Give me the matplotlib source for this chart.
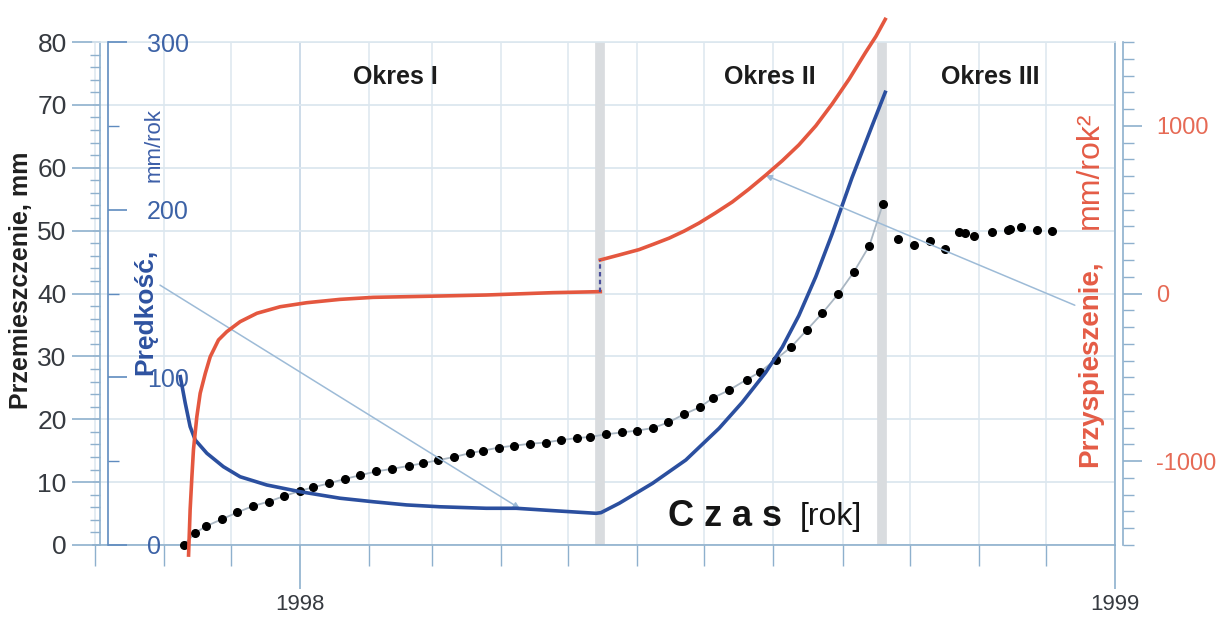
import numpy as np
import matplotlib
matplotlib.use("Agg")
import matplotlib.pyplot as plt
import matplotlib.dates as mdates
from matplotlib.ticker import MultipleLocator

plt.rcParams['font.family'] = ['Liberation Sans', 'DejaVu Sans']
plt.rcParams['axes.unicode_minus'] = False

# dni liczone od 1998-01-01
START = mdates.date2num(np.datetime64('1998-01-01'))

# pomiary przemieszczenia [mm]
dni_pomiar = [-52, -47, -42, -35, -28, -21, -14, -7, 0, 6, 13, 20, 27, 34, 41, 49,
              55, 62, 69, 76, 82, 89, 96, 103, 110, 117, 124, 130, 137, 144, 151,
              158, 165, 172, 179, 185, 192, 200, 206, 213, 220, 227, 234, 241, 248,
              255, 261, 268, 275, 282, 289, 295, 298, 302, 310, 317, 318, 323, 330, 337]
przemieszczenie = [0.0, 1.9, 3.0, 4.1, 5.2, 6.2, 6.9, 7.8, 8.6, 9.2, 9.8, 10.5, 11.1,
                   11.7, 12.1, 12.6, 13.0, 13.5, 14.0, 14.6, 15.0, 15.5, 15.8, 16.1,
                   16.3, 16.7, 17.0, 17.2, 17.6, 17.9, 18.2, 18.6, 19.5, 20.8, 21.9,
                   23.4, 24.6, 26.3, 27.5, 29.5, 31.5, 34.2, 36.9, 39.9, 43.4, 47.6,
                   54.2, 48.7, 47.7, 48.4, 47.1, 49.8, 49.7, 49.2, 49.8, 50.1, 50.2,
                   50.5, 50.1, 50.0]
n_trend = 47  # pomiary do szczytu polaczone linia

# predkosc [mm/rok]
dni_v = [-53.6, -51.4, -49.2, -46.9, -41.7, -34.3, -26.8, -14.9, 0, 17.9, 32.8, 47.7,
         62.6, 83.4, 96.8, 113.2, 132.6, 134.8, 143, 157.9, 172.8, 187.7, 198, 208.5,
         216, 223.4, 231, 238.3, 247.2, 256.2, 262.1]
predkosc = [100.4, 84.7, 70.6, 62.6, 54.7, 46.7, 40.7, 35.8, 31.8, 27.9, 25.8, 23.9,
            22.8, 21.9, 21.9, 20.5, 18.9, 19.3, 24.9, 36.8, 50.7, 69.6, 85.0, 102.8,
            118.0, 136.8, 160.0, 185.5, 219.0, 250.0, 270.0]

# przyspieszenie [mm/rok^2] - okres I
dni_a1 = [-49.9, -49.2, -48.4, -47.7, -46.2, -44.7, -42.4, -40.2, -36.5, -32.8, -26.8,
          -19.3, -8.9, 3.0, 17.9, 32.8, 47.7, 62.6, 83.4, 113.2, 134.5]
przysp1 = [-1560, -1290, -1090, -930, -735, -595, -476, -377, -277, -228, -168, -118,
           -79, -55, -35, -23, -19, -15, -9, 5, 11]
# przyspieszenie - okres II
dni_a2 = [134.5, 143, 151.9, 158.5, 165.3, 172, 178.7, 186, 193.6, 201, 208.5, 216,
          223.4, 231, 238.3, 246, 253.2, 258, 262.1]
przysp2 = [200, 230, 262, 295, 330, 372, 420, 480, 546, 622, 705, 792, 886, 1000,
           1130, 1280, 1436, 1535, 1635]

granice_okresow = [134.5, 260.5]
okresy = ['Okres I', 'Okres II', 'Okres III']
srodki_okresow = [42.5, 210.5, 309]

W, H = 1225, 619
fig = plt.figure(figsize=(W / 100, H / 100), dpi=100)
L, R, T, B = 93, 1115, 42, 545
ax = fig.add_axes([L / W, 1 - B / H, (R - L) / W, (B - T) / H])
ax_v = ax.twinx()
ax_a = ax.twinx()
axw = R - L

grid_c = '#dce7ef'
spine_c = '#8eb0cd'

x_p = START + np.array(dni_pomiar)
ax.plot(x_p[:n_trend], przemieszczenie[:n_trend], color='#a9b6c2', lw=1.3, zorder=3)
ax.plot(x_p, przemieszczenie, 'o', color='black', ms=5.5, zorder=4, clip_on=False)

for g in granice_okresow:
    ax.axvline(START + g, color='#d9dcdf', lw=7, zorder=1)

ax.set_xlim(START - 92.7, START + 365)
ax.set_ylim(0, 80)
ax.xaxis_date()
ax.xaxis.set_major_locator(mdates.YearLocator())
ax.xaxis.set_major_formatter(mdates.DateFormatter('%Y'))
ax.xaxis.set_minor_locator(mdates.MonthLocator())
ax.yaxis.set_major_locator(MultipleLocator(10))
ax.yaxis.set_minor_locator(MultipleLocator(2))
ax.grid(which='major', axis='y', color=grid_c, lw=1.3, zorder=0)
ax.grid(which='minor', axis='x', color=grid_c, lw=1.1, zorder=0)
ax.grid(which='major', axis='x', color='#c9d9e7', lw=1.3, zorder=0)
ax.set_axisbelow(True)

for s in ax.spines.values():
    s.set_color(spine_c)
    s.set_linewidth(1.2)
ax.spines['top'].set_color(grid_c)
ax.spines['left'].set_position(('axes', 7 / axw))
ax.tick_params(axis='y', which='major', length=20, width=1.2, color=spine_c,
               labelsize=19, labelcolor='#363a40', pad=4)
ax.tick_params(axis='y', which='minor', length=7, width=1, color=spine_c)
ax.tick_params(axis='x', which='major', length=32, width=1.2, color=spine_c,
               labelsize=16, labelcolor='#363a40', pad=3)
ax.tick_params(axis='x', which='minor', length=15, width=1, color=spine_c)

# predkosc - os przy lewej krawedzi, opisy do srodka
ax_v.plot(START + np.array(dni_v), predkosc, color='#2b4f9f', lw=2.6, zorder=5)
ax_v.set_ylim(0, 300)
for k, s in ax_v.spines.items():
    s.set_visible(k == 'right')
ax_v.spines['right'].set_position(('axes', 15 / axw))
ax_v.spines['right'].set_color('#5f8bbf')
ax_v.spines['right'].set_linewidth(1.2)
ax_v.yaxis.set_major_locator(MultipleLocator(100))
ax_v.yaxis.set_minor_locator(MultipleLocator(50))
ax_v.tick_params(axis='y', which='major', length=14, width=1.2, color='#5f8bbf',
                 labelsize=18, labelcolor='#3c62a6', pad=14)
ax_v.tick_params(axis='y', which='minor', length=8, width=1, color='#5f8bbf')

# przyspieszenie
ax_a.plot(START + np.array(dni_a1), przysp1, color='#e4573f', lw=2.6, clip_on=False, zorder=5)
ax_a.plot(START + np.array(dni_a2), przysp2, color='#e4573f', lw=2.6, clip_on=False, zorder=5)
ax_a.plot([START + dni_a1[-1], START + dni_a2[0]], [przysp1[-1], przysp2[0]],
          ls=(0, (2, 1.5)), color='#4a4f9c', lw=1.6, zorder=5)
ax_a.set_ylim(-1500, 1500)
for k, s in ax_a.spines.items():
    s.set_visible(k == 'right')
ax_a.spines['right'].set_position(('axes', 1 + 8 / axw))
ax_a.spines['right'].set_color(spine_c)
ax_a.spines['right'].set_linewidth(1.2)
ax_a.yaxis.set_major_locator(MultipleLocator(1000))
ax_a.yaxis.set_minor_locator(MultipleLocator(100))
ax_a.tick_params(axis='y', which='major', length=14, width=1.2, color=spine_c,
                 labelsize=17, labelcolor='#e66a55', pad=10)
ax_a.tick_params(axis='y', which='minor', length=8, width=1, color=spine_c)

# strzalki od opisow osi do krzywych
arrow = dict(arrowstyle='-|>', color='#9dbbd7', lw=1.1, mutation_scale=9, shrinkA=0, shrinkB=0)
d_v = 98.5
ax_v.annotate('', xy=(START + d_v, np.interp(d_v, dni_v, predkosc)),
              xytext=(START - 62.7, 155), arrowprops=arrow)
d_a = 208.5
ax_a.annotate('', xy=(START + d_a, np.interp(d_a, dni_a2, przysp2)),
              xytext=(START + 347, -70), arrowprops=arrow)

for nazwa, d in zip(okresy, srodki_okresow):
    ax.text(START + d, 74.4, nazwa, ha='center', va='center', fontsize=18,
            fontweight='bold', color='#1c1c1c')


def ftext(px, py, s, **kw):
    fig.text(px / W, 1 - py / H, s, **kw)


ftext(21, 280, 'Przemieszczenie, mm', rotation=90, ha='center', va='center',
      fontsize=18, fontweight='bold', color='#202020')
ftext(145, 312, 'Prędkość,', rotation=90, ha='center', va='center',
      fontsize=19, fontweight='bold', color='#2e52a0')
ftext(154, 145, 'mm/rok', rotation=90, ha='center', va='center',
      fontsize=16, color='#3d5fa8')
ftext(1090, 364, 'Przyspieszenie,', rotation=90, ha='center', va='center',
      fontsize=20, fontweight='bold', color='#e45c46')
ftext(1090, 170, 'mm/rok²', rotation=90, ha='center', va='center',
      fontsize=23, color='#e45c46')
ftext(668, 517, 'C z a s', ha='left', va='center', fontsize=26,
      fontweight='bold', color='#151515')
ftext(800, 517, '[rok]', ha='left', va='center', fontsize=23, color='#151515')

fig.savefig('out.png', dpi=100, facecolor='white')
